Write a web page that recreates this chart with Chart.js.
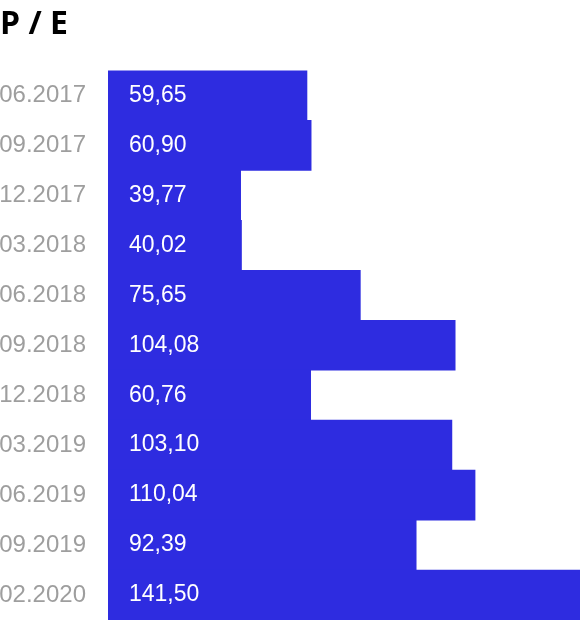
<!DOCTYPE html>
<html>
<head>
<meta charset="utf-8">
<script src="https://cdn.jsdelivr.net/npm/chart.js@4"></script>
<style>
  html, body { margin: 0; padding: 0; background: #fff; overflow: hidden; }
  canvas { display: block; }
</style>
</head>
<body>
<canvas id="pe-chart" width="580" height="620"></canvas>
<script>
// quarters and the P/E ratio for each one
const periods = ['06.2017', '09.2017', '12.2017', '03.2018', '06.2018', '09.2018',
                 '12.2018', '03.2019', '06.2019', '09.2019', '02.2020']
const peValues = [59.65, 60.90, 39.77, 40.02, 75.65, 104.08, 60.76, 103.10, 110.04, 92.39, 141.50]

const barColor = '#2e2ce0'

// writes the value inside each bar, near its left end
const valueLabels = {
    id: 'valueLabels',
    afterDatasetsDraw(chart) {
        const ctx = chart.ctx
        const meta = chart.getDatasetMeta(0)
        const x0 = chart.scales.x.getPixelForValue(0)
        ctx.save()
        ctx.fillStyle = '#ffffff'
        ctx.font = '23px "Liberation Sans", Arial, sans-serif'
        ctx.textBaseline = 'middle'
        ctx.textAlign = 'left'
        meta.data.forEach((bar, i) => {
            ctx.fillText(peValues[i].toFixed(2).replace('.', ','), x0 + 21, bar.y)
        })
        ctx.restore()
    }
}

new Chart(document.querySelector('#pe-chart').getContext('2d'), {
    type: 'bar',
    data: {
        labels: periods,
        datasets: [{
            data: peValues,
            backgroundColor: barColor,
            borderWidth: 0,
            categoryPercentage: 1,
            barPercentage: 1
        }]
    },
    options: {
        indexAxis: 'y',
        responsive: false,
        animation: false,
        layout: { padding: 0 },
        plugins: {
            legend: { display: false },
            tooltip: { enabled: false },
            title: {
                display: true,
                text: 'P / E',
                align: 'start',
                color: '#000',
                font: { family: '"Open Sans", sans-serif', size: 32, weight: 'bold', lineHeight: 1.2 },
                padding: { top: 6, bottom: 26 }
            }
        },
        scales: {
            x: {
                display: false,
                min: 0,
                max: 141.5
            },
            y: {
                grid: { display: false, drawTicks: false },
                border: { display: false },
                ticks: {
                    color: '#9e9e9e',
                    padding: 22,
                    font: { family: '"Liberation Sans", Arial, sans-serif', size: 24 }
                },
                afterFit(scale) {
                    // fixed gutter for the labels, and no extra room above/below the bars
                    scale.width = 108
                    scale.paddingTop = 0
                    scale.paddingBottom = 0
                }
            }
        }
    },
    plugins: [valueLabels]
})
</script>
</body>
</html>
